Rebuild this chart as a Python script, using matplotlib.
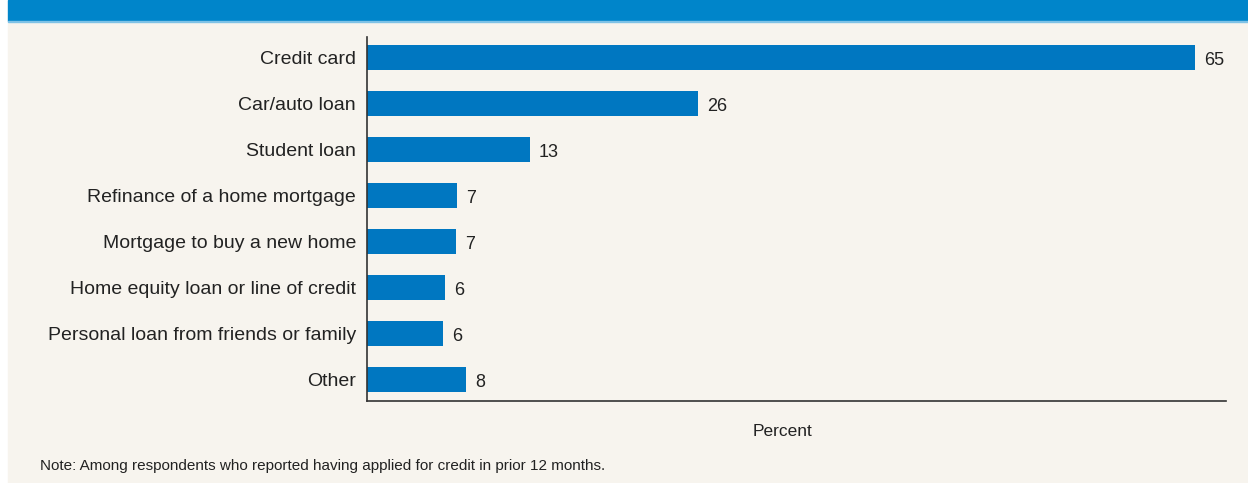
import matplotlib.pyplot as plt
from matplotlib.patches import Rectangle

categories = [
    "Credit card",
    "Car/auto loan",
    "Student loan",
    "Refinance of a home mortgage",
    "Mortgage to buy a new home",
    "Home equity loan or line of credit",
    "Personal loan from friends or family",
    "Other",
]
values = [65.0, 26.0, 12.8, 7.1, 7.0, 6.1, 6.0, 7.8]
value_labels = ["65", "26", "13", "7", "7", "6", "6", "8"]

BG = "#f7f4ee"
BAR = "#0077c1"
HEADER = "#0085ca"

plt.rcParams["font.family"] = ["Liberation Sans Narrow", "Liberation Sans", "DejaVu Sans"]

W, H = 1248, 483
fig = plt.figure(figsize=(W / 100, H / 100), dpi=100)
fig.patch.set_facecolor("white")

# cream panel and blue header band, behind the axes
for (x0, y0, w, h, c) in [(8, 0, W - 8, H - 22, BG),
                          (8, H - 21, W - 8, 21, HEADER),
                          (8, H - 22, W - 8, 1, "#7fc2e6")]:
    fig.patches.append(Rectangle((x0 / W, y0 / H), w / W, h / H,
                                 transform=fig.transFigure, color=c, zorder=-5))

ax = fig.add_axes([367 / W, 1 - 401 / H, (1226 - 367) / W, (401 - 37) / H])
ax.patch.set_alpha(0)

ypos = list(range(len(categories)))
ax.barh(ypos, values, height=0.54, color=BAR, zorder=2)
for y, v, lab in zip(ypos, values, value_labels):
    ax.text(v + 0.7, y + 0.06, lab, va="center", ha="left", fontsize=13, color="#222222")

ax.set_xlim(0, 67.4)
ax.set_ylim(7.46, -0.44)
ax.set_yticks(ypos)
ax.set_yticklabels(categories, fontsize=14, color="#222222")
ax.tick_params(axis="y", length=0, pad=8)
ax.set_xticks([])
for s in ["top", "right"]:
    ax.spines[s].set_visible(False)
for s in ["left", "bottom"]:
    ax.spines[s].set_color("#333333")
    ax.spines[s].set_linewidth(1.2)

fig.text(782 / W, 1 - 432 / H, "Percent", ha="center", va="center", fontsize=12.5, color="#222222")
fig.text(40 / W, 1 - 466 / H, "Note: Among respondents who reported having applied for credit in prior 12 months.",
         ha="left", va="center", fontsize=11, color="#222222")

fig.savefig("out.png", dpi=100, facecolor=fig.get_facecolor())
